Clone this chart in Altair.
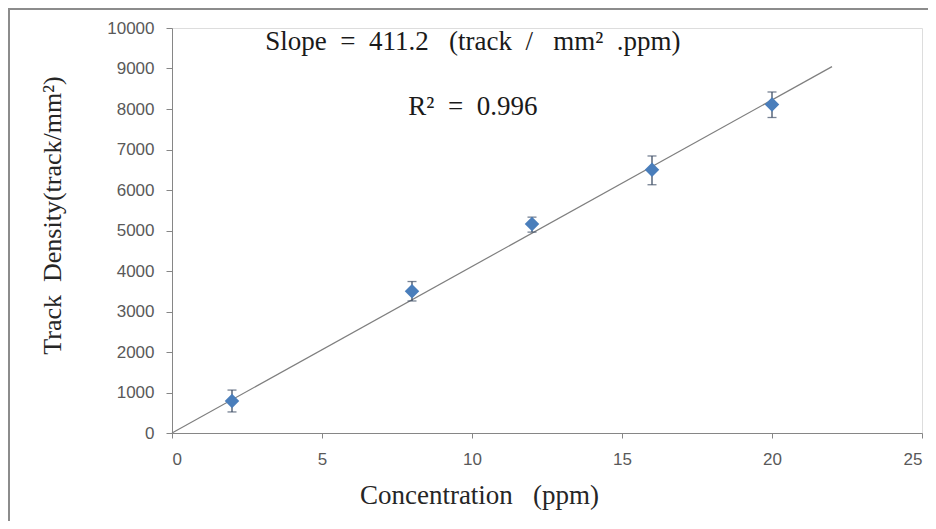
import altair as alt
import pandas as pd

# Data
concentration = [2, 8, 12, 16, 20]
density = [790, 3500, 5160, 6500, 8110]
err_low = [520, 3260, 4960, 6130, 7790]
err_high = [1060, 3740, 5330, 6840, 8420]

slope = 411.2
fit_x = [0, 22]
fit_y = [v * slope for v in fit_x]

x_ticks = [0, 5, 10, 15, 20, 25]
y_ticks = [0, 1000, 2000, 3000, 4000, 5000, 6000, 7000, 8000, 9000, 10000]

NB = "\u00a0"
annot_text = [
    f"Slope{NB} ={NB} 411.2{NB}{NB} (track{NB} /{NB}{NB} mm\u00b2{NB} .ppm)",
    f"R\u00b2{NB} ={NB} 0.996",
]
annot_x = [10.03, 10.03]
annot_y = [9650, 8050]

pts = pd.DataFrame({"x": concentration, "y": density, "lo": err_low, "hi": err_high})
fit = pd.DataFrame({"x": fit_x, "y": fit_y})
ann = pd.DataFrame({"t": annot_text, "x": annot_x, "y": annot_y})

xs = alt.Scale(domain=[0, 25], nice=False, zero=True)
ys = alt.Scale(domain=[0, 10000], nice=False)

x_axis = alt.Axis(values=x_ticks, title=f"Concentration{NB}{NB} (ppm)", grid=False,
                  labelFont="Liberation Sans", labelFontSize=17, labelColor="#595959",
                  labelPadding=13, tickSize=5, tickColor="#868686", domainColor="#868686",
                  titleFont="Liberation Serif", titleFontSize=27, titleFontWeight="normal",
                  titleColor="#262626", titleX=307, titleY=62, titleAlign="center",
                  titleBaseline="middle")
y_axis = alt.Axis(values=y_ticks, format="d", title=f"Track{NB} Density(track/mm\u00b2)", grid=False,
                  labelFont="Liberation Sans", labelFontSize=17, labelColor="#595959",
                  labelPadding=12, tickSize=6, tickColor="#868686", domainColor="#868686",
                  titleFont="Liberation Serif", titleFontSize=26, titleFontWeight="normal",
                  titleColor="#262626", titleX=-120, titleY=187, titleAlign="center",
                  titleBaseline="middle", titleAngle=-90)

line = alt.Chart(fit).mark_line(color="#7f7f7f", strokeWidth=1.2).encode(
    x=alt.X("x:Q", scale=xs, axis=x_axis),
    y=alt.Y("y:Q", scale=ys, axis=y_axis),
)

bars = alt.Chart(pts).mark_rule(color="#3f4f66", strokeWidth=1.3).encode(
    x="x:Q", y="lo:Q", y2="hi:Q"
)
cap_lo = alt.Chart(pts).mark_tick(orient="horizontal", color="#3f4f66", thickness=1.3, size=9).encode(
    x="x:Q", y="lo:Q"
)
cap_hi = alt.Chart(pts).mark_tick(orient="horizontal", color="#3f4f66", thickness=1.3, size=9).encode(
    x="x:Q", y="hi:Q"
)
dots = alt.Chart(pts).mark_point(shape="diamond", filled=True, size=210, color="#4a7ebb", opacity=1).encode(
    x="x:Q", y="y:Q"
)

text = alt.Chart(ann).mark_text(font="Liberation Serif", fontSize=27, color="#1a1a1a",
                                align="center", baseline="middle").encode(
    x="x:Q", y="y:Q", text="t:N"
)

frame_left = alt.Chart(pts).mark_rule(color="#8c8c8c", strokeWidth=2).encode(
    x=alt.value(-163), y=alt.value(-20), y2=alt.value(500)
)
frame_top = alt.Chart(pts).mark_rule(color="#8c8c8c", strokeWidth=2).encode(
    x=alt.value(-163), x2=alt.value(760), y=alt.value(-19)
)

chart = alt.layer(line, bars, cap_lo, cap_hi, dots, text, frame_left, frame_top).properties(
    width=750, height=405,
    autosize=alt.AutoSizeParams(type="none"),
    padding={"left": 164, "top": 20, "right": 6, "bottom": 88},
).configure_view(stroke=None).configure(background="white")

chart.save("out.html", embed_options={"renderer": "svg", "actions": False})
